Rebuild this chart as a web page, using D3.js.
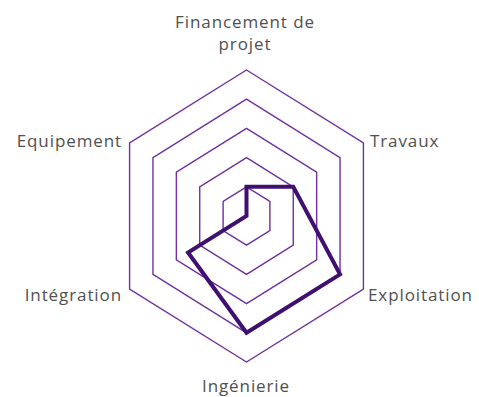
<html>
<script src="https://d3js.org/d3.v7.min.js"></script>
<body style="margin:0; background:#fff;">
    <div id="chart_area"></div>
</body>
<script>
    // Chart values
    let axes = ["Financement de projet", "Travaux", "Exploitation", "Ingénierie", "Intégration", "Equipement"];
    let values = [1, 2, 4, 4, 2.5, 0];
    let ticks = [1, 2, 3, 4, 5];

    let width = 479;
    let height = 397;
    let cx = 246.5, cy = 216;

    let svg = d3.select("#chart_area").append("svg")
        .attr("width", width)
        .attr("height", height);

    // plot area is a bit narrower than tall
    let rScaleX = d3.scaleLinear().domain([0, 5]).range([0, 135]);
    let rScaleY = d3.scaleLinear().domain([0, 5]).range([0, 146]);

    function angleOf(i) {
        return -Math.PI / 2 + 2 * Math.PI * i / axes.length;
    }
    function toXY(i, v) {
        let a = angleOf(i);
        return [cx + Math.cos(a) * rScaleX(v), cy + Math.sin(a) * rScaleY(v)];
    }

    let line = d3.line().curve(d3.curveLinearClosed);

    // grid rings
    svg.selectAll(".ring")
        .data(ticks)
        .join("path")
        .attr("class", "ring")
        .attr("d", t => line(axes.map((_, i) => toXY(i, t))))
        .attr("fill", "none")
        .attr("stroke", "#7030a0")
        .attr("stroke-width", 1.4);

    // data series
    svg.append("path")
        .attr("d", line(values.map((v, i) => toXY(i, v))))
        .attr("fill", "none")
        .attr("stroke", "#3f1070")
        .attr("stroke-width", 4)
        .attr("stroke-linejoin", "miter");

    // axis labels
    let labelFont = "17px 'Open Sans', sans-serif";
    let labelPos = [
        {lines: ["Financement de", "projet"], x: 245, y: 28, anchor: "middle"},
        {lines: ["Travaux"], x: 370, y: 147, anchor: "start"},
        {lines: ["Exploitation"], x: 368, y: 301, anchor: "start"},
        {lines: ["Ingénierie"], x: 246, y: 392, anchor: "middle"},
        {lines: ["Intégration"], x: 122, y: 301, anchor: "end"},
        {lines: ["Equipement"], x: 122, y: 147, anchor: "end"}
    ];

    labelPos.forEach(d => {
        let t = svg.append("text")
            .attr("x", d.x)
            .attr("y", d.y)
            .attr("text-anchor", d.anchor)
            .attr("fill", "#505050")
            .style("font", labelFont)
            .style("letter-spacing", "0.9px");
        d.lines.forEach((l, k) => {
            t.append("tspan")
                .attr("x", d.x)
                .attr("dy", k == 0 ? 0 : 22)
                .text(l);
        });
    });
</script>
</html>
